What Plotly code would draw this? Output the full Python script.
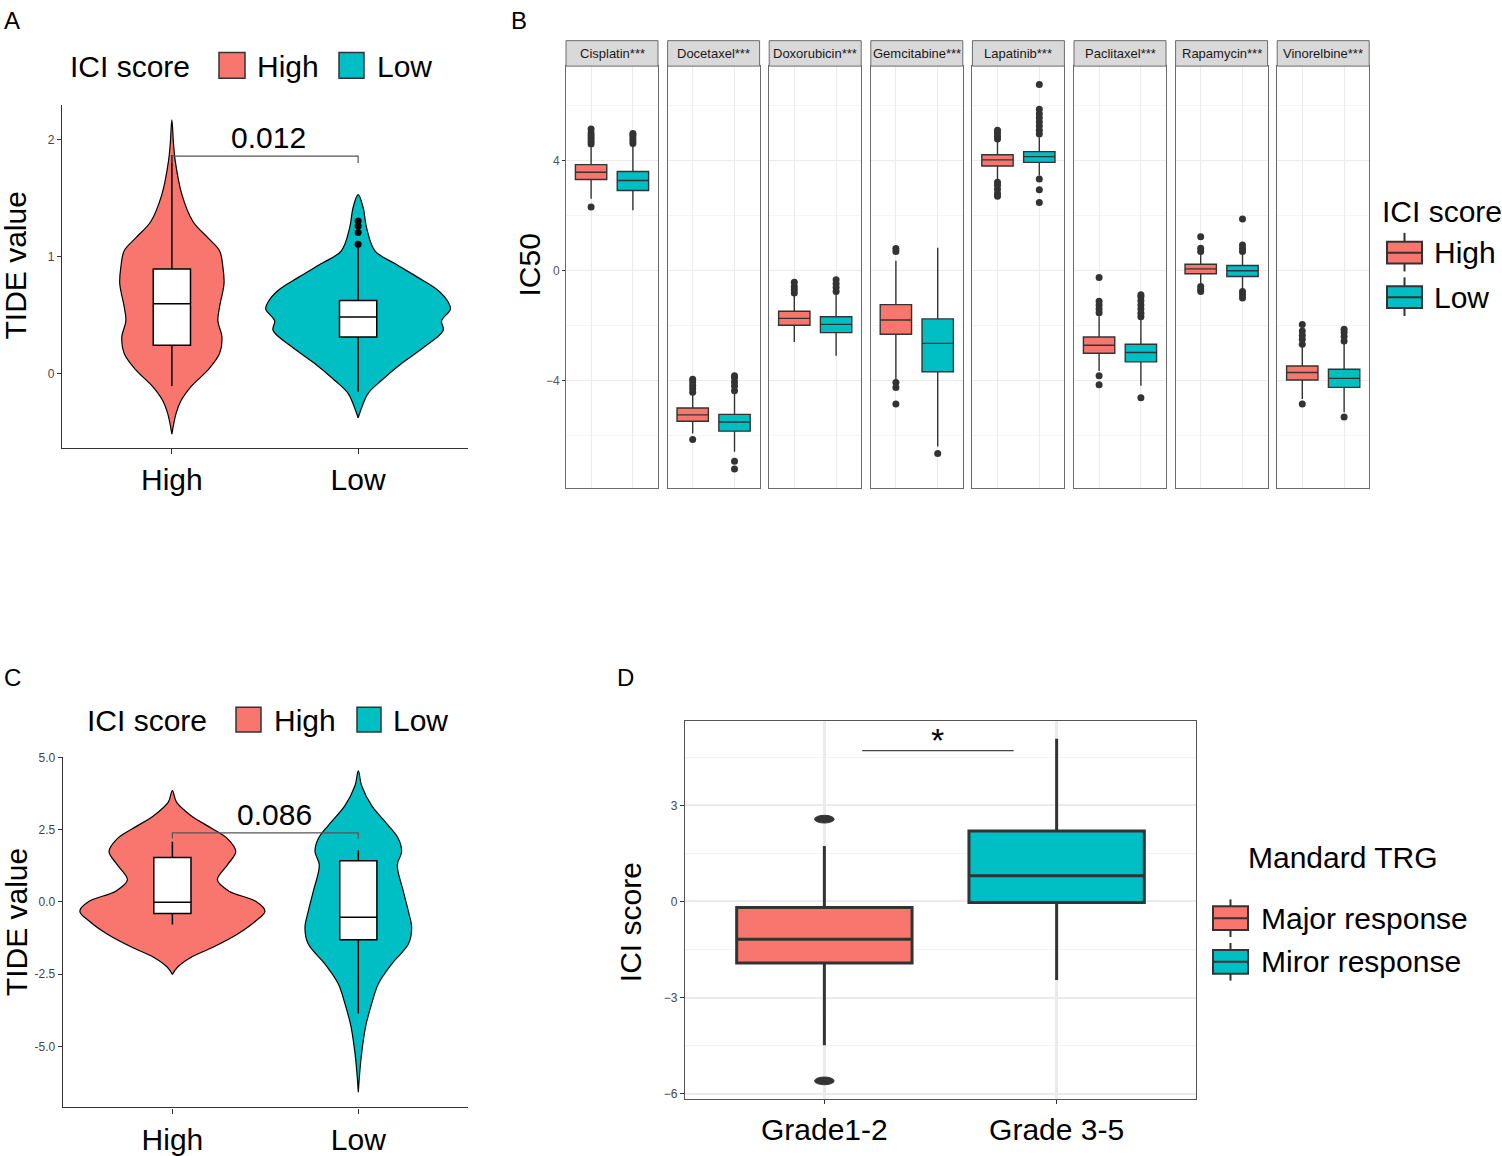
import plotly.graph_objects as go

W, H = 1502, 1156
SALMON, TEAL = "#F8766D", "#00BFC4"
FONT = "Liberation Sans"
DARK = "#333333"

# ---------------- data ----------------
groups = ["High", "Low"]

# Panel A : violin density profiles (level, half-width in category units)
a_high_level = [2.17, 1.96, 1.82, 1.53, 1.30, 1.16, 1.05, 0.91, 0.77, 0.57, 0.45, 0.31, 0.17, 0.03, -0.11, -0.23, -0.34, -0.52]
a_high_width = [0, 0.009, 0.018, 0.054, 0.113, 0.194, 0.256, 0.274, 0.280, 0.256, 0.247, 0.269, 0.256, 0.194, 0.104, 0.050, 0.023, 0]
a_low_level = [1.53, 1.42, 1.25, 1.05, 0.94, 0.82, 0.71, 0.61, 0.55, 0.45, 0.37, 0.23, 0.085, -0.06, -0.17, -0.28, -0.38]
a_low_width = [0, 0.027, 0.045, 0.090, 0.197, 0.323, 0.430, 0.484, 0.496, 0.448, 0.457, 0.358, 0.233, 0.125, 0.054, 0.022, 0]
a_box_lower = [-0.108, -0.156]
a_box_q1 = [0.241, 0.312]
a_box_median = [0.596, 0.482]
a_box_q3 = [0.894, 0.624]
a_box_upper = [1.87, 1.08]
a_low_outliers = [1.106, 1.206, 1.262, 1.305]
a_pvalue = "0.012"

# Panel B : IC50 boxplots per drug, [High, Low]
drugs = ["Cisplatin***", "Docetaxel***", "Doxorubicin***", "Gemcitabine***",
         "Lapatinib***", "Paclitaxel***", "Rapamycin***", "Vinorelbine***"]
b_lower = [[2.61, 2.19], [-5.93, -6.59], [-2.60, -3.10], [-3.95, -6.40],
           [3.27, 3.45], [-3.65, -4.19], [-0.52, -0.70], [-4.67, -5.15]]
b_q1 = [[3.31, 2.91], [-5.48, -5.84], [-1.99, -2.26], [-2.32, -3.68],
        [3.80, 3.93], [-3.01, -3.32], [-0.12, -0.22], [-3.98, -4.25]]
b_median = [[3.57, 3.27], [-5.25, -5.51], [-1.74, -1.96], [-1.80, -2.65],
            [4.02, 4.14], [-2.72, -2.98], [0.06, -0.01], [-3.71, -3.92]]
b_q3 = [[3.85, 3.60], [-5.00, -5.23], [-1.48, -1.68], [-1.24, -1.76],
        [4.21, 4.32], [-2.42, -2.68], [0.23, 0.18], [-3.47, -3.59]]
b_upper = [[4.48, 4.58], [-4.49, -4.43], [-0.88, -0.82], [0.35, 0.83],
           [4.72, 4.84], [-1.66, -1.76], [0.63, 0.63], [-2.74, -2.62]]
b_outliers = [
    [[2.31, 4.60, 4.70, 4.80, 4.90, 5.00, 5.14], [4.62, 4.72, 4.82, 4.92, 4.98]],
    [[-4.43, -4.30, -4.18, -4.05, -3.95, -6.14], [-4.37, -4.20, -4.05, -3.90, -3.83, -6.93, -7.22]],
    [[-0.82, -0.70, -0.58, -0.43], [-0.76, -0.62, -0.48, -0.34]],
    [[0.69, 0.80, -4.07, -4.25, -4.85], [-6.65]],
    [[4.78, 4.88, 5.00, 5.10, 3.21, 3.10, 2.95, 2.80, 2.70],
     [4.96, 5.10, 5.25, 5.40, 5.55, 5.70, 5.86, 6.76, 3.33, 2.94, 2.47]],
    [[-1.54, -1.40, -1.25, -1.12, -0.25, -3.83, -4.15],
     [-1.68, -1.55, -1.40, -1.25, -1.10, -0.95, -0.88, -4.63]],
    [[0.69, 0.81, 1.23, -0.58, -0.68, -0.76], [0.69, 0.80, 0.93, 1.87, -0.76, -0.88, -1.00]],
    [[-2.68, -2.50, -2.35, -2.20, -1.96, -4.85], [-2.56, -2.40, -2.25, -2.14, -5.33]],
]
b_yticks = [-4, 0, 4]

# Panel C
c_high_level = [3.85, 3.45, 2.99, 2.53, 2.19, 1.74, 1.28, 0.76, 0.37, 0.02, -0.32, -0.66, -1.12, -1.58, -1.92, -2.26, -2.51]
c_high_width = [0, 0.022, 0.099, 0.215, 0.296, 0.341, 0.296, 0.242, 0.305, 0.448, 0.498, 0.448, 0.349, 0.215, 0.099, 0.027, 0]
c_low_level = [4.53, 4.02, 3.33, 2.65, 2.19, 1.74, 1.28, 0.37, -0.32, -0.89, -1.46, -2.15, -2.83, -3.52, -4.32, -5.23, -5.80, -6.58]
c_low_width = [0, 0.018, 0.072, 0.161, 0.215, 0.233, 0.210, 0.242, 0.269, 0.287, 0.269, 0.179, 0.108, 0.072, 0.039, 0.018, 0.009, 0]
c_box_lower = [-0.78, -3.86]
c_box_q1 = [-0.40, -1.31]
c_box_median = [-0.01, -0.53]
c_box_q3 = [1.54, 1.42]
c_box_upper = [2.08, 1.79]
c_pvalue = "0.086"
c_yticks = [-5.0, -2.5, 0.0, 2.5, 5.0]
c_yticklabels = ["-5.0", "-2.5", "0.0", "2.5", "5.0"]

# Panel D
grades = ["Grade1-2", "Grade 3-5"]
trg = ["Major response", "Miror response"]
d_lower = [-4.49, -2.45]
d_q1 = [-1.92, -0.03]
d_median = [-1.18, 0.80]
d_q3 = [-0.19, 2.20]
d_upper = [1.73, 5.08]
d_outliers = [[2.57, -5.60], []]
d_yticks = [-6, -3, 0, 3]


# ---------------- helpers ----------------
def px_x(p):
    return p / W


def px_y(p):
    return 1 - p / H


def violin_path(center, levels, widths):
    xs = [center - w for w in widths] + [center + w for w in widths[::-1]]
    ys = list(levels) + list(levels[::-1])
    return xs, ys


fig = go.Figure()
layout = dict(width=W, height=H, margin=dict(l=0, r=0, t=0, b=0),
              paper_bgcolor="white", plot_bgcolor="white", showlegend=False,
              font=dict(family=FONT, color="black"))
shapes, annotations = [], []


def txt(x, y, text, size=30, xanchor="left", angle=0, color="black"):
    annotations.append(dict(x=px_x(x), y=px_y(y), xref="paper", yref="paper", text=text,
                            showarrow=False, xanchor=xanchor, yanchor="middle",
                            textangle=angle, font=dict(size=size, color=color, family=FONT)))


def rect(x0, y0, x1, y1, fill, line=DARK, lw=1.5):
    shapes.append(dict(type="rect", xref="paper", yref="paper", x0=px_x(x0), x1=px_x(x1),
                       y0=px_y(y0), y1=px_y(y1), fillcolor=fill, line=dict(color=line, width=lw)))


def seg(x0, y0, x1, y1, color=DARK, lw=1.5):
    shapes.append(dict(type="line", xref="paper", yref="paper", x0=px_x(x0), x1=px_x(x1),
                       y0=px_y(y0), y1=px_y(y1), line=dict(color=color, width=lw)))


def classic_axes(n, ov, xdom, ydom, xrange, yrange, yticks, yticktext):
    layout["xaxis%s" % n] = dict(domain=[px_x(xdom[0]), px_x(xdom[1])], anchor="y%s" % n,
                                 range=xrange, tickvals=[0, 1], ticktext=groups, tickfont=dict(size=30),
                                 ticks="outside", ticklen=5, tickcolor=DARK, showline=True, linecolor=DARK,
                                 linewidth=1.2, showgrid=False, zeroline=False)
    layout["yaxis%s" % n] = dict(domain=[px_y(ydom[1]), px_y(ydom[0])], anchor="x%s" % n,
                                 range=yrange, tickvals=yticks, ticktext=yticktext,
                                 tickfont=dict(size=12, color="#444444"), ticks="outside", ticklen=4,
                                 tickcolor=DARK, showline=True, linecolor=DARK, linewidth=1.2,
                                 showgrid=False, zeroline=False)
    # overlay axes (same scale) so that boxes are drawn above the violins
    layout["xaxis%d" % ov] = dict(overlaying="x%s" % n, anchor="y%d" % ov, range=xrange, visible=False)
    layout["yaxis%d" % ov] = dict(overlaying="y%s" % n, anchor="x%d" % ov, range=yrange, visible=False)


def add_violin_panel(xa, ya, xo, yo, profiles, lower, q1, med, q3, upper):
    for i, (lev, wid) in enumerate(profiles):
        xs, ys = violin_path(i, lev, wid)
        fig.add_trace(go.Scatter(x=xs, y=ys, mode="lines", fill="toself", line_shape="spline",
                                 fillcolor=[SALMON, TEAL][i], line=dict(color="black", width=1.2),
                                 xaxis=xa, yaxis=ya, hoverinfo="skip"))
    for i in range(2):
        fig.add_trace(go.Box(x=[i], q1=[q1[i]], median=[med[i]], q3=[q3[i]],
                             lowerfence=[lower[i]], upperfence=[upper[i]], width=0.2,
                             fillcolor="white", line=dict(color="black", width=1.5),
                             whiskerwidth=0, boxpoints=False, xaxis=xo, yaxis=yo))


# ---------------- Panel A ----------------
classic_axes("", 12, (62, 468), (100, 446), [-0.59, 1.59], [-0.636, 2.297],
             [0, 1, 2], ["0", "1", "2"])
add_violin_panel("x", "y", "x12", "y12", [(a_high_level, a_high_width), (a_low_level, a_low_width)],
                 a_box_lower, a_box_q1, a_box_median, a_box_q3, a_box_upper)
fig.add_trace(go.Scatter(x=[1] * len(a_low_outliers), y=a_low_outliers, mode="markers",
                         marker=dict(color="black", size=7), xaxis="x12", yaxis="y12"))
fig.add_trace(go.Scatter(x=[0, 0, 1, 1], y=[1.80, 1.86, 1.86, 1.80], mode="lines",
                         line=dict(color="#555555", width=1.2), xaxis="x12", yaxis="y12"))
annotations.append(dict(x=0.52, y=2.02, xref="x", yref="y", text=a_pvalue, showarrow=False,
                        font=dict(size=30)))
txt(16, 262, "TIDE value", angle=-90, xanchor="center")
txt(68, 61, "ICI score")
rect(219, 47, 245, 73, SALMON)
txt(255, 61, groups[0])
rect(339, 47, 364, 73, TEAL)
txt(375, 61, groups[1])

# ---------------- Panel B ----------------
B_TOP, B_BOT, B_STRIP = 60.7, 487, 35
for d in range(8):
    n = d + 2
    left = 566 + d * 101.6
    right = left + 92
    xa, ya = "x%d" % n, "y%d" % n
    first = d == 0
    layout["xaxis%d" % n] = dict(domain=[px_x(left), px_x(right)], anchor=ya, range=[-0.6, 1.6],
                                 tickvals=[0, 1], showticklabels=False, ticks="", showgrid=True,
                                 gridcolor="#EBEBEB", gridwidth=1.2, zeroline=False, showline=True,
                                 mirror=True, linecolor="#6b6b6b", linewidth=1)
    layout["yaxis%d" % n] = dict(domain=[px_y(B_BOT), px_y(B_TOP)], anchor=xa, range=[-7.92, 7.43],
                                 tickvals=b_yticks, showticklabels=first, ticks="outside" if first else "",
                                 ticklen=3, tickcolor=DARK, tickfont=dict(size=12, color="#555555"),
                                 showgrid=True, gridcolor="#EBEBEB", gridwidth=1.2, zeroline=False,
                                 minor=dict(tickvals=[-6, -2, 2, 6], showgrid=True, gridcolor="#F4F4F4",
                                            gridwidth=0.8),
                                 showline=True, mirror=True, linecolor="#6b6b6b", linewidth=1)
    rect(left, B_STRIP, right, B_TOP, "#D9D9D9", line="#6b6b6b", lw=1)
    txt((left + right) / 2, (B_STRIP + B_TOP) / 2, drugs[d], size=13, xanchor="center", color="#1a1a1a")
    for g in range(2):
        fig.add_trace(go.Box(x=[g], q1=[b_q1[d][g]], median=[b_median[d][g]], q3=[b_q3[d][g]],
                             lowerfence=[b_lower[d][g]], upperfence=[b_upper[d][g]], width=0.75,
                             fillcolor=[SALMON, TEAL][g], line=dict(color=DARK, width=1.4),
                             whiskerwidth=0, boxpoints=False, xaxis=xa, yaxis=ya))
        outs = b_outliers[d][g]
        fig.add_trace(go.Scatter(x=[g] * len(outs), y=outs, mode="markers",
                                 marker=dict(color=DARK, size=7), xaxis=xa, yaxis=ya))
txt(530, 262, "IC50", angle=-90, xanchor="center")
txt(1380, 207, "ICI score")
for g, (y0, y1) in enumerate([(238, 260), (283, 305)]):
    seg(1404.5, y0 - 9, 1404.5, y1 + 8, lw=2)
    rect(1387, y0, 1422, y1, [SALMON, TEAL][g], lw=2)
    seg(1387, (y0 + y1) / 2, 1422, (y0 + y1) / 2, lw=2)
    txt(1432, (y0 + y1) / 2, groups[g])

# ---------------- Panel C ----------------
classic_axes("10", 13, (62.7, 468), (758, 1112), [-0.59, 1.59], [-7.11, 5.02],
             c_yticks, c_yticklabels)
add_violin_panel("x10", "y10", "x13", "y13", [(c_high_level, c_high_width), (c_low_level, c_low_width)],
                 c_box_lower, c_box_q1, c_box_median, c_box_q3, c_box_upper)
fig.add_trace(go.Scatter(x=[0, 0, 1, 1], y=[2.19, 2.39, 2.39, 2.19], mode="lines",
                         line=dict(color="#555555", width=1.2), xaxis="x13", yaxis="y13"))
annotations.append(dict(x=0.55, y=3.01, xref="x10", yref="y10", text=c_pvalue, showarrow=False,
                        font=dict(size=30)))
txt(16, 925, "TIDE value", angle=-90, xanchor="center")
txt(85, 721, "ICI score")
rect(236, 708, 261, 733, SALMON)
txt(272, 721, groups[0])
rect(357, 708, 381, 733, TEAL)
txt(391, 721, groups[1])

# ---------------- Panel D ----------------
layout["xaxis11"] = dict(domain=[px_x(685), px_x(1196)], anchor="y11", range=[-0.6, 1.6],
                         tickvals=[0, 1], ticktext=grades, tickfont=dict(size=30), ticks="outside",
                         ticklen=4, tickcolor=DARK, showgrid=True, gridcolor="#EBEBEB", gridwidth=3,
                         zeroline=False, showline=True, mirror=True, linecolor="#555555", linewidth=1.2)
layout["yaxis11"] = dict(domain=[px_y(1103), px_y(722)], anchor="x11", range=[-6.15, 5.63],
                         tickvals=d_yticks, tickfont=dict(size=12, color="#444444"), ticks="outside",
                         ticklen=4, tickcolor=DARK, showgrid=True, gridcolor="#EBEBEB", gridwidth=1.5,
                         minor=dict(tickvals=[-4.5, -1.5, 1.5, 4.5], showgrid=True, gridcolor="#F3F3F3",
                                    gridwidth=1),
                         zeroline=False, showline=True, mirror=True, linecolor="#555555", linewidth=1.2)
for g in range(2):
    fig.add_trace(go.Box(x=[g], q1=[d_q1[g]], median=[d_median[g]], q3=[d_q3[g]],
                         lowerfence=[d_lower[g]], upperfence=[d_upper[g]], width=0.755,
                         fillcolor=[SALMON, TEAL][g], line=dict(color=DARK, width=3),
                         whiskerwidth=0, boxpoints=False, xaxis="x11", yaxis="y11"))
    for v in d_outliers[g]:
        # outliers appear as flattened ellipses in the reference
        shapes.append(dict(type="circle", xref="x11", yref="y11", x0=g - 0.042, x1=g + 0.042,
                           y0=v - 0.12, y1=v + 0.12, fillcolor=DARK, line=dict(color=DARK, width=1)))
fig.add_trace(go.Scatter(x=[0.163, 0.815], y=[4.71, 4.71], mode="lines",
                         line=dict(color="#444444", width=1.2), xaxis="x11", yaxis="y11"))
annotations.append(dict(x=0.485, y=5.05, xref="x11", yref="y11", text="*", showarrow=False,
                        font=dict(size=34)))
txt(630, 925, "ICI score", angle=-90, xanchor="center")
txt(1246, 860, "Mandard TRG")
for g, (y0, y1) in enumerate([(909, 933), (953, 977)]):
    seg(1230.5, y0 - 7, 1230.5, y1 + 7, lw=2)
    rect(1213, y0, 1248, y1, [SALMON, TEAL][g], lw=2)
    seg(1213, (y0 + y1) / 2, 1248, (y0 + y1) / 2, lw=2)
    txt(1259, (y0 + y1) / 2, trg[g])

# ---------------- panel letters ----------------
for letter, x, y in [("A", 2, 15), ("B", 509, 15), ("C", 2, 678), ("D", 615, 678)]:
    txt(x, y, letter, size=24)

layout["shapes"] = shapes
layout["annotations"] = annotations
fig.update_layout(**layout)

post = ("document.documentElement.style.margin='0';document.documentElement.style.padding='0';"
        "document.documentElement.style.overflow='hidden';"
        "document.body.style.margin='0';document.body.style.padding='0';document.body.style.overflow='hidden';"
        "var gd=document.getElementsByClassName('plotly-graph-div')[0];"
        "gd.style.position='fixed';gd.style.top='0px';gd.style.left='0px';")
fig.write_html("out.html", config={"displayModeBar": False}, post_script=post)
